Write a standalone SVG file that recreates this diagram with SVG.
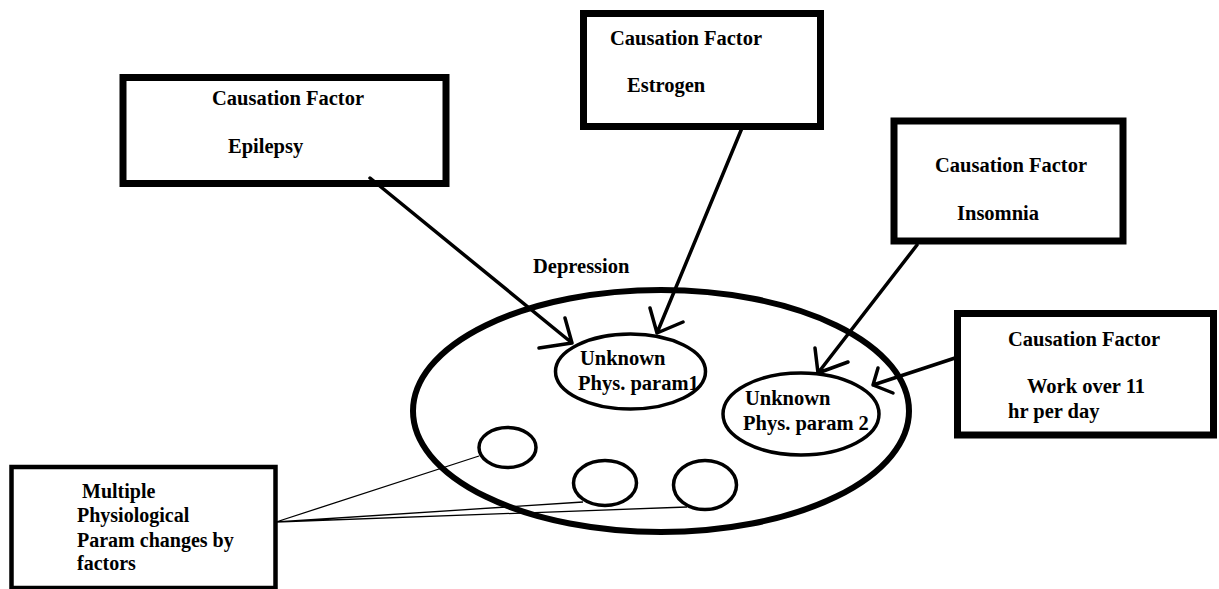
<svg xmlns="http://www.w3.org/2000/svg" width="1219" height="589" viewBox="0 0 1219 589">
<defs>
<style>
text{font-family:"Liberation Serif","Times New Roman",serif;font-weight:bold;font-size:20.5px;fill:#000}
.box{fill:#fff;stroke:#000;stroke-width:7}
.ov{fill:none;stroke:#000;stroke-width:3.5}
.arr{fill:none;stroke:#000;stroke-width:3.5;stroke-linecap:round;stroke-linejoin:round}
.thin{fill:none;stroke:#000;stroke-width:1.3}
.sm{font-size:20px}
</style>
</defs>
<rect width="1219" height="589" fill="#fff"/>
<g id="depression">
<ellipse cx="661" cy="411" rx="248" ry="121" fill="none" stroke="#000" stroke-width="6"/>
<text x="533" y="273">Depression</text>
</g>
<g id="param1">
<ellipse class="ov" cx="630.5" cy="371.5" rx="75" ry="37.5"/>
<text x="580" y="365">Unknown</text>
<text x="578" y="390">Phys. param1</text>
</g>
<g id="param2">
<ellipse class="ov" cx="801" cy="414" rx="78" ry="41"/>
<text x="745" y="405">Unknown</text>
<text x="743" y="430">Phys. param 2</text>
</g>
<g id="circle1"><ellipse class="ov" cx="507.5" cy="447.5" rx="28.5" ry="20"/></g>
<g id="circle2"><ellipse class="ov" cx="605" cy="483" rx="31.5" ry="22.5"/></g>
<g id="circle3"><ellipse class="ov" cx="705" cy="485" rx="31.5" ry="24.5"/></g>
<g id="epilepsy">
<rect class="box" x="123" y="77.5" width="323" height="106"/>
<text x="212" y="105">Causation Factor</text>
<text x="228" y="153">Epilepsy</text>
</g>
<g id="estrogen">
<rect class="box" x="583.5" y="13.5" width="237" height="113"/>
<text x="610" y="45">Causation Factor</text>
<text x="627" y="92">Estrogen</text>
</g>
<g id="insomnia">
<rect class="box" x="894" y="121" width="229" height="120"/>
<text x="935" y="172">Causation Factor</text>
<text x="957" y="220">Insomnia</text>
</g>
<g id="work">
<rect class="box" x="957.5" y="313.5" width="256" height="121.5"/>
<text x="1008" y="346">Causation Factor</text>
<text x="1027" y="393">Work over 11</text>
<text x="1008" y="418">hr per day</text>
</g>
<g id="multiple">
<rect x="11.5" y="467" width="264" height="121" fill="#fff" stroke="#000" stroke-width="4.5"/>
<text class="sm" x="82" y="498">Multiple</text>
<text class="sm" x="77" y="522">Physiological</text>
<text class="sm" x="77" y="547">Param changes by</text>
<text class="sm" x="77" y="570">factors</text>
</g>
<g id="connectors">
<path class="arr" d="M370 178 L572 343 M565 318 L572 343 L539 348"/>
<path class="arr" d="M742 128 L657 333 M650 308 L657 333 L683 322"/>
<path class="arr" d="M917 245 L818 373 M815 348 L818 373 L848 362"/>
<path class="arr" d="M955 358 L873 385 M878 368 L873 385 L893 393"/>
<path class="thin" d="M276 522 L479 456 M276 522 L583 502 M276 522 L687 507"/>
</g>
</svg>
